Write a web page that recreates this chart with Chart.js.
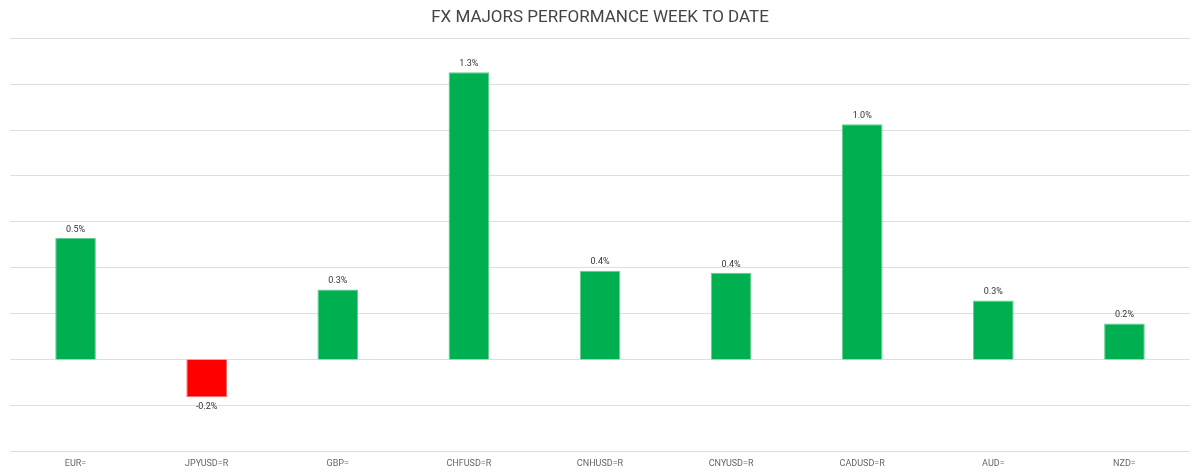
<!DOCTYPE html>
<html>
<head>
<meta charset="utf-8">
<script src="https://cdn.jsdelivr.net/npm/chart.js@4/dist/chart.umd.min.js"></script>
<style>
  html, body { margin: 0; padding: 0; background: #fff; }
  #wrap { width: 1200px; height: 476px; }
</style>
</head>
<body>
<div id="wrap"><canvas id="c"></canvas></div>
<script>
const labels = ['EUR=', 'JPYUSD=R', 'GBP=', 'CHFUSD=R', 'CNHUSD=R', 'CNYUSD=R', 'CADUSD=R', 'AUD=', 'NZD=']
const values = [0.53, -0.165, 0.305, 1.252, 0.387, 0.378, 1.026, 0.257, 0.157]

const green = '#00b050'
const red = '#ff0000'

// draws the % value above positive bars, below negative ones
const valueLabels = {
  id: 'valueLabels',
  afterDatasetsDraw (chart) {
    const ctx = chart.ctx
    const meta = chart.getDatasetMeta(0)
    ctx.save()
    ctx.font = '9px Roboto'
    ctx.fillStyle = '#333'
    ctx.textAlign = 'center'
    meta.data.forEach((bar, i) => {
      const v = values[i]
      const txt = v.toFixed(1) + '%'
      if (v >= 0) {
        ctx.textBaseline = 'bottom'
        ctx.fillText(txt, bar.x, bar.y - 4)
      } else {
        ctx.textBaseline = 'top'
        ctx.fillText(txt, bar.x, bar.y + 5)
      }
    })
    ctx.restore()
  }
}

new Chart(document.getElementById('c'), {
  type: 'bar',
  data: {
    labels: labels,
    datasets: [{
      data: values,
      backgroundColor: values.map(v => v < 0 ? red : green),
      borderColor: values.map(v => v < 0 ? '#ff6666' : '#66cc8f'),
      borderWidth: 1,
      barPercentage: 0.31,
      categoryPercentage: 1
    }]
  },
  options: {
    responsive: true,
    maintainAspectRatio: false,
    animation: false,
    layout: { padding: { left: 10, right: 10, top: 0, bottom: 0 } },
    plugins: {
      legend: { display: false },
      tooltip: { enabled: false },
      title: {
        display: true,
        text: 'FX MAJORS PERFORMANCE WEEK TO DATE',
        color: '#444',
        font: { family: 'Roboto', size: 17, weight: 'normal' },
        padding: { top: 8, bottom: 10 }
      }
    },
    scales: {
      x: {
        grid: { display: false, drawTicks: false },
        border: { display: false },
        ticks: { color: '#666', font: { family: 'Roboto', size: 9 }, padding: 7 }
      },
      y: {
        min: -0.4,
        max: 1.4,
        ticks: { display: false, stepSize: 0.2 },
        border: { display: false },
        grid: { color: '#dedede', lineWidth: 1, drawTicks: false }
      }
    }
  },
  plugins: [valueLabels]
})
</script>
</body>
</html>
